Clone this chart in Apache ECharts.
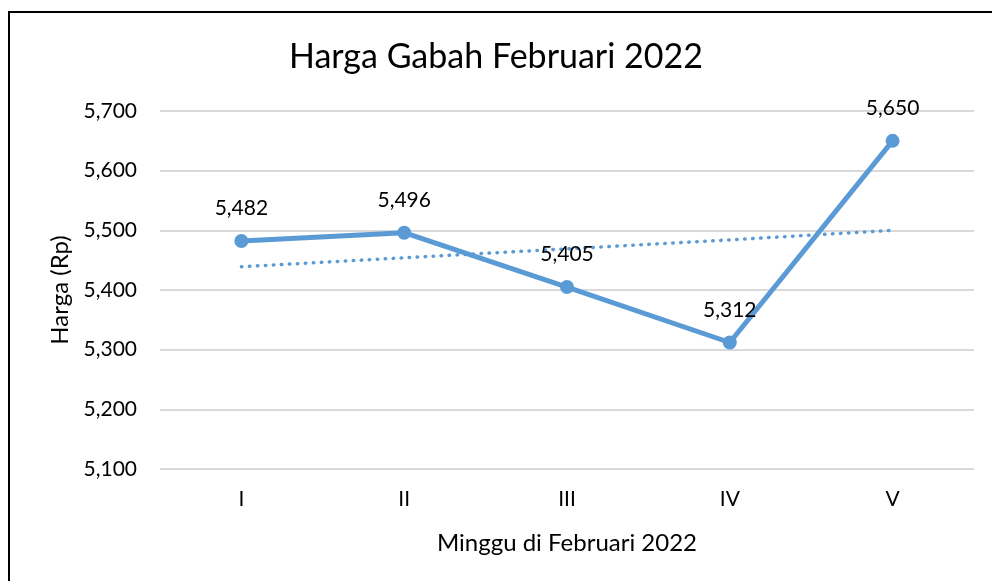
<!DOCTYPE html>
<html><head><meta charset="utf-8">
<script src="https://cdn.jsdelivr.net/npm/echarts@6/dist/echarts.min.js"></script>
<style>html,body{margin:0;padding:0;background:#fff}#c{width:992px;height:581px}</style>
</head><body><div id="c"></div>
<script>
var categories = ['I', 'II', 'III', 'IV', 'V'];
var harga = [5482, 5496, 5405, 5312, 5650];
var trend = [5439, 5454, 5469, 5484, 5500];
var yTicks = { min: 5100, max: 5700, interval: 100 };
var FONT = 'Lato';
var blue = '#5b9bd5';
var chart = echarts.init(document.getElementById('c'));
chart.setOption({
  backgroundColor: '#fff',
  animation: false,
  textStyle: { fontFamily: FONT },
  title: { text: 'Harga Gabah Februari 2022', left: 'center', top: 35,
    textStyle: { fontFamily: FONT, fontSize: 34, fontWeight: 'normal', color: '#000' } },
  graphic: [{ type: 'rect', shape: { x: 9, y: 12, width: 1000, height: 600 },
    style: { fill: 'none', stroke: '#000', lineWidth: 2 }, silent: true }],
  grid: { left: 160, right: 18, top: 111, bottom: 112 },
  xAxis: { type: 'category', data: categories, boundaryGap: true,
    axisLine: { show: false }, axisTick: { show: false },
    axisLabel: { color: '#000', fontSize: 21, margin: 20, fontFamily: FONT },
    name: 'Minggu di Februari 2022', nameLocation: 'middle', nameGap: 62,
    nameTextStyle: { color: '#000', fontSize: 24, fontFamily: FONT } },
  yAxis: { type: 'value', min: yTicks.min, max: yTicks.max, interval: yTicks.interval,
    axisLine: { show: false }, axisTick: { show: false },
    splitLine: { lineStyle: { color: '#d9d9d9', width: 2 } },
    axisLabel: { color: '#000', fontSize: 21, margin: 23, fontFamily: FONT,
      formatter: function (v) { return v.toLocaleString('en-US'); } },
    name: 'Harga (Rp)', nameLocation: 'middle', nameGap: 88, nameRotate: 90,
    nameTextStyle: { color: '#000', fontSize: 24, fontFamily: FONT } },
  series: [
    { type: 'line', data: trend, symbol: 'none', z: 1,
      lineStyle: { color: blue, width: 3.5, type: [0.5, 7.5], cap: 'round' } },
    { type: 'line', data: harga, symbol: 'circle', symbolSize: 14, z: 2,
      itemStyle: { color: blue }, lineStyle: { color: blue, width: 5 },
      label: { show: true, position: 'top', distance: 15, color: '#000', fontSize: 21, fontFamily: FONT,
        formatter: function (p) { return p.value.toLocaleString('en-US'); } } }
  ]
});
</script></body></html>
